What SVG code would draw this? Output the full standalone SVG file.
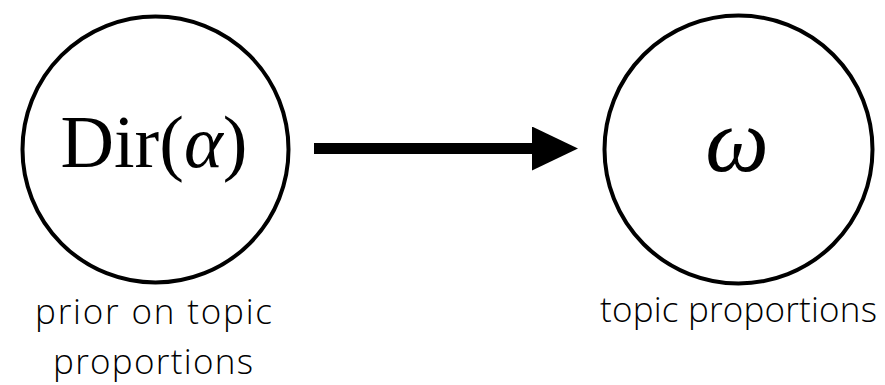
<svg xmlns="http://www.w3.org/2000/svg" width="885" height="385" viewBox="0 0 885 385">
<style>
.node{fill:#fff;stroke:#000;stroke-width:4}
.math{font-family:"Liberation Serif","DejaVu Serif",serif;fill:#000}
.lbl{font-family:"Open Sans","Noto Sans","Liberation Sans",sans-serif;font-weight:300;font-size:35px;fill:#000;text-anchor:middle}
</style>
<defs>
<marker id="ah" markerUnits="userSpaceOnUse" markerWidth="46" markerHeight="44" refX="0" refY="22" orient="auto">
<path d="M0,0 L46,22 L0,44 Z" fill="#000"/>
</marker>
</defs>
<g id="connectors">
<line x1="314" y1="148.5" x2="532" y2="148.5" stroke="#000" stroke-width="11" marker-end="url(#ah)"/>
</g>
<g id="node-dir">
<circle class="node" cx="155.5" cy="149.5" r="133"/>
<text class="math" x="154" y="167" font-size="75" text-anchor="middle" textLength="187" lengthAdjust="spacingAndGlyphs">Dir(<tspan font-style="italic">α</tspan>)</text>
<text class="lbl" x="153.5" y="324" textLength="237" lengthAdjust="spacing">prior on topic</text>
<text class="lbl" x="153" y="374" textLength="200" lengthAdjust="spacing">proportions</text>
</g>
<g id="node-omega">
<circle class="node" cx="738.5" cy="149.5" r="134"/>
<text class="math" x="737" y="171" font-size="90" font-style="italic" text-anchor="middle">ω</text>
<text class="lbl" x="738.5" y="322" textLength="277" lengthAdjust="spacing">topic proportions</text>
</g>
</svg>
